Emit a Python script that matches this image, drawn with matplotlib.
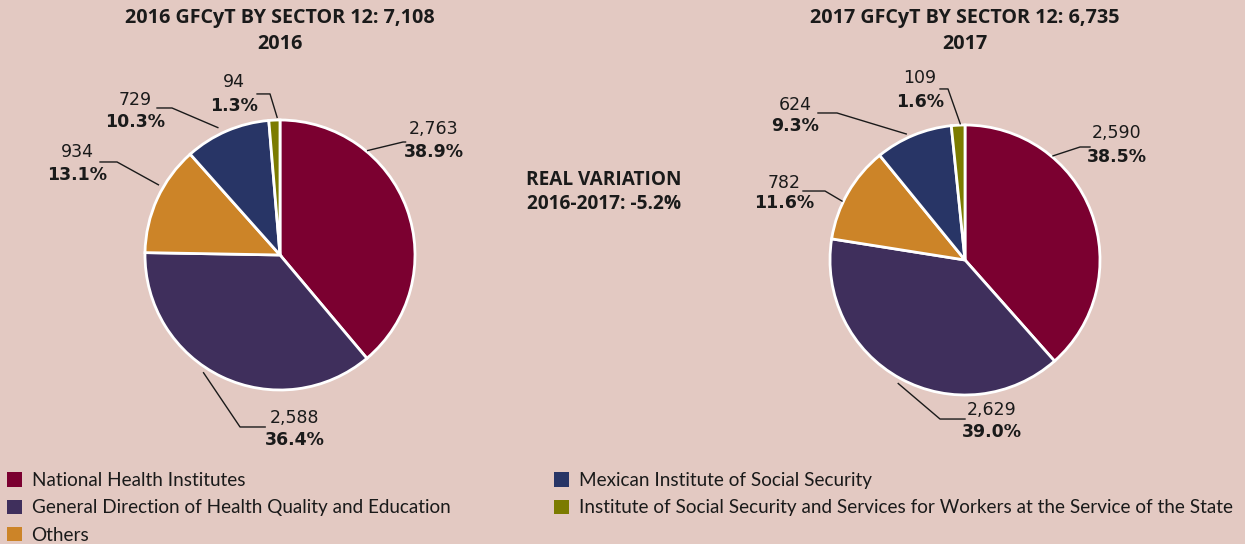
import numpy as np
import matplotlib
matplotlib.use("Agg")
import matplotlib.pyplot as plt
from matplotlib import font_manager
from matplotlib.patches import Patch

# --- data ---
sectors = ["National Health Institutes",
           "General Direction of Health Quality and Education",
           "Others",
           "Mexican Institute of Social Security",
           "Institute of Social Security and Services for Workers at the Service of the State"]
vals_2016 = [2763, 2588, 934, 729, 94]
pct_2016 = [38.9, 36.4, 13.1, 10.3, 1.3]
vals_2017 = [2590, 2629, 782, 624, 109]
pct_2017 = [38.5, 39.0, 11.6, 9.3, 1.6]
total_2016 = 7108
total_2017 = 6735
real_var = -5.2

colors = ["#7b0030", "#3f2f5c", "#cc8428", "#283566", "#7b7b00"]
bg = "#e3c9c2"

names = {f.name for f in font_manager.fontManager.ttflist}
leg_font = "Liberation Sans Narrow" if "Liberation Sans Narrow" in names else "Lato"
title_font = "Open Sans" if "Open Sans" in names else "DejaVu Sans"

W, H = 1245, 544
fig = plt.figure(figsize=(W / 100, H / 100), dpi=100, facecolor=bg)
R = 135

# label layout per wedge: (edge angle, edge r, elbow x, elbow y, end x, text x, text y1, text y2)
lay_2016 = [(50, 1.01, 0.911, 0.837, 0.93, 1.14, 0.93, 0.763),
            (237, 1.04, -0.296, -1.274, -0.11, 0.11, -1.21, -1.37),
            (150, 1.04, -1.207, 0.689, -1.333, -1.504, 0.763, 0.593),
            (116, 1.05, -0.80, 1.089, -0.911, -1.074, 1.148, 0.985),
            (91.2, 1.02, -0.074, 1.193, -0.17, -0.34, 1.281, 1.104)]
lay_2017 = [(49.8, 1.01, 0.852, 0.837, 0.926, 1.126, 0.94, 0.763),
            (241.6, 1.04, -0.185, -1.178, 0.0, 0.20, -1.111, -1.274),
            (154.4, 1.01, -1.037, 0.511, -1.2, -1.34, 0.57, 0.422),
            (115, 1.03, -0.948, 1.089, -1.089, -1.26, 1.148, 0.993),
            (92, 1.01, -0.126, 1.267, -0.185, -0.333, 1.348, 1.17)]


def draw_pie(cx, cy, vals, pcts, lay, title, year):
    ax = fig.add_axes([(cx - R) / W, 1 - (cy + R) / H, 2 * R / W, 2 * R / H])
    ax.pie(vals, colors=colors, startangle=90, counterclock=False, radius=1,
           wedgeprops=dict(edgecolor="white", linewidth=2))
    ax.set_xlim(-1, 1)
    ax.set_ylim(-1, 1)
    ax.set_aspect("equal")
    ax.axis("off")
    for v, p, l in zip(vals, pcts, lay):
        a, r, ex, ey, endx, tx, ty1, ty2 = l
        sx = r * np.cos(np.radians(a))
        sy = r * np.sin(np.radians(a))
        ax.plot([sx, ex, endx], [sy, ey, ey], color="#1a1a1a", lw=1, clip_on=False)
        ax.text(tx, ty1, f"{v:,}", ha="center", va="center", fontsize=12.5,
                family="DejaVu Sans", color="#1a1a1a")
        ax.text(tx, ty2, f"{p:.1f}%", ha="center", va="center", fontsize=12.5,
                family="DejaVu Sans", fontweight="bold", color="#1a1a1a")
    fig.text(cx / W, 1 - 18 / H, title, ha="center", va="center", fontsize=14.2,
             fontweight="bold", family=title_font, color="#1a1a1a")
    fig.text(cx / W, 1 - 44 / H, year, ha="center", va="center", fontsize=14.2,
             fontweight="bold", family=title_font, color="#1a1a1a")


draw_pie(280, 255, vals_2016, pct_2016, lay_2016,
         f"2016 GFCyT BY SECTOR 12: {total_2016:,}", "2016")
draw_pie(965, 260, vals_2017, pct_2017, lay_2017,
         f"2017 GFCyT BY SECTOR 12: {total_2017:,}", "2017")

fig.text(604 / W, 1 - 192 / H, f"REAL VARIATION\n2016-2017: {real_var:.1f}%",
         ha="center", va="center", fontsize=13.7, fontweight="bold",
         family=title_font, color="#1a1a1a", linespacing=1.3)

handles = [Patch(facecolor=c, edgecolor="none", label=s) for c, s in zip(colors, sectors)]
leg_kw = dict(frameon=False, handlelength=0.8, handleheight=0.8, handletextpad=0.5,
              labelspacing=0.55, borderaxespad=0, borderpad=0,
              prop=dict(family=leg_font, size=13.6), labelcolor="#1a1a1a")
fig.legend(handles=handles[:3], loc="upper left", bbox_to_anchor=(7 / W, 1 - 472 / H), **leg_kw)
fig.legend(handles=handles[3:], loc="upper left", bbox_to_anchor=(554 / W, 1 - 472 / H), **leg_kw)

fig.savefig("out.png", dpi=100, facecolor=bg)
